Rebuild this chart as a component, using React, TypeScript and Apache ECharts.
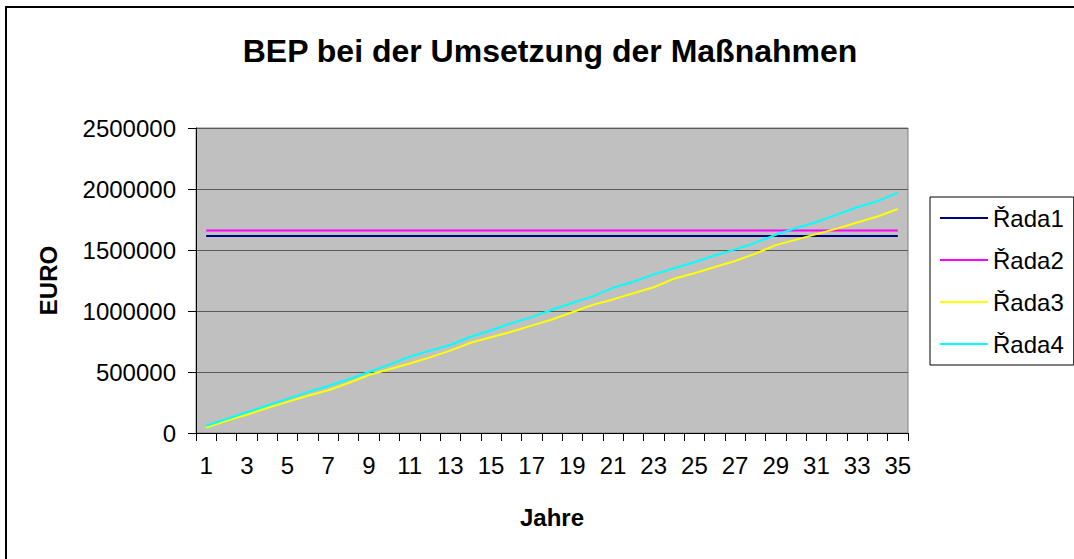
import React, { useEffect, useRef } from "react";
import * as echarts from "echarts";

const years = Array.from({ length: 35 }, (_, i) => String(i + 1));
const rada1 = Array(35).fill(1615000);
const rada2 = Array(35).fill(1660000);
const rada3 = [
  45000, 100000, 150000, 205000, 255000, 305000, 350000, 410000, 475000, 522000,
  570000, 620000, 675000, 740000, 785000, 830000, 880000, 930000, 990000, 1050000,
  1095000, 1145000, 1195000, 1265000, 1310000, 1360000, 1410000, 1470000, 1540000, 1585000,
  1630000, 1675000, 1725000, 1775000, 1836000,
];
const rada4 = [
  60000, 115000, 170000, 225000, 280000, 335000, 385000, 440000, 500000, 560000,
  625000, 675000, 721000, 789000, 840000, 900000, 950000, 1010000, 1065000, 1120000,
  1190000, 1240000, 1300000, 1350000, 1400000, 1455000, 1505000, 1560000, 1625000, 1680000,
  1730000, 1790000, 1850000, 1900000, 1970000,
];
const seriesNames = ["Řada1", "Řada2", "Řada3", "Řada4"];
const seriesColors = ["#000080", "#FF00FF", "#FFFF00", "#00FFFF"];

const FONT = "'Liberation Sans', Arial, sans-serif";

export default function App() {
  const ref = useRef<HTMLDivElement>(null);
  useEffect(() => {
    if (!ref.current) return;
    const chart = echarts.init(ref.current, undefined, { renderer: "svg" });
    const data = [rada1, rada2, rada3, rada4];
    chart.setOption({
      animation: false,
      backgroundColor: "#ffffff",
      textStyle: { fontFamily: FONT },
      title: {
        text: "BEP bei der Umsetzung der Maßnahmen",
        left: 545,
        top: 30,
        textAlign: "center",
        textStyle: { fontFamily: FONT, fontSize: 32, fontWeight: "bold", color: "#000" },
      },
      graphic: [
        {
          type: "rect",
          shape: { x: 6, y: 7, width: 1200, height: 700 },
          style: { fill: "none", stroke: "#000", lineWidth: 2 },
          silent: true,
          z: 100,
        },
      ],
      legend: {
        orient: "vertical",
        left: 930,
        top: 197,
        data: seriesNames,
        icon: "rect",
        itemWidth: 48,
        itemHeight: 2,
        itemGap: 18,
        padding: [9, 10, 9, 10],
        borderColor: "#000",
        borderWidth: 1,
        backgroundColor: "#fff",
        textStyle: { fontFamily: FONT, fontSize: 24, color: "#000", lineHeight: 24 },
      },
      grid: {
        left: 196,
        top: 128,
        width: 712,
        height: 305,
        show: true,
        backgroundColor: "#C0C0C0",
        borderColor: "#808080",
        borderWidth: 1,
      },
      xAxis: {
        type: "category",
        data: years,
        boundaryGap: true,
        name: "Jahre",
        nameLocation: "middle",
        nameGap: 72,
        nameTextStyle: { fontFamily: FONT, fontSize: 24, fontWeight: "bold", color: "#000" },
        axisLine: { show: true, lineStyle: { color: "#000", width: 1 } },
        axisTick: { show: true, interval: 0, length: 8, lineStyle: { color: "#000" } },
        axisLabel: { interval: 1, fontFamily: FONT, fontSize: 24, color: "#000", margin: 20 },
        splitLine: { show: false },
      },
      yAxis: {
        type: "value",
        min: 0,
        max: 2500000,
        interval: 500000,
        name: "EURO",
        nameLocation: "middle",
        nameGap: 136,
        nameTextStyle: { fontFamily: FONT, fontSize: 24, fontWeight: "bold", color: "#000" },
        axisLine: { show: true, lineStyle: { color: "#000", width: 1 } },
        axisTick: { show: true, length: 8, lineStyle: { color: "#000" } },
        axisLabel: {
          fontFamily: FONT,
          fontSize: 24,
          color: "#000",
          margin: 20,
          formatter: (v: number) => String(v),
        },
        splitLine: { show: true, lineStyle: { color: "#5a5a5a", width: 1 } },
      },
      series: seriesNames.map((name, i) => ({
        name,
        type: "line",
        data: data[i],
        symbol: "none",
        color: seriesColors[i],
        lineStyle: { color: seriesColors[i], width: 2 },
      })),
    });
    return () => chart.dispose();
  }, []);
  return (
    <div
      ref={ref}
      style={{ position: "fixed", left: 0, top: 0, width: 1074, height: 559 }}
    />
  );
}
